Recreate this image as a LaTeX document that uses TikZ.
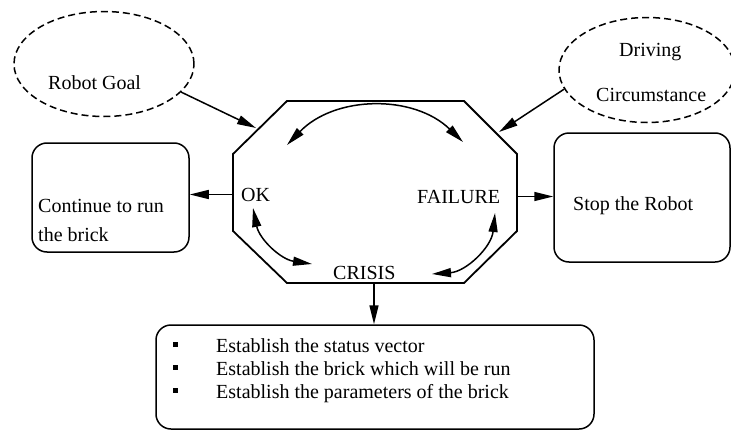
\documentclass[tikz,border=0pt]{standalone}
\usepackage{fontspec}
\setmainfont{Liberation Serif}
\usepackage{tikz}
\usetikzlibrary{shapes.geometric,arrows.meta}
\tikzstyle{dream} = [ellipse, draw, dash pattern=on 7pt off 4pt, line width=1.5pt, inner sep=0pt]
\tikzstyle{panel} = [rectangle, draw, rounded corners=15pt, line width=1.5pt, inner sep=0pt]
\tikzstyle{txt} = [anchor=base west, inner sep=0pt, font=\fontsize{20}{24}\selectfont]
\tikzstyle{dot} = [rectangle, fill, minimum size=5pt, inner sep=0pt]
\tikzstyle{arr} = [-{Triangle[length=19pt,width=9pt]}, line width=1.5pt]
\tikzstyle{dbl} = [{Triangle[length=19pt,width=9pt]}-{Triangle[length=19pt,width=9pt]}, line width=1.5pt]

\begin{document}
\begin{tikzpicture}[x=1pt, y=1pt]
    \useasboundingbox (0,0) rectangle (731,-431);
    % inputs
    \node[dream, minimum width=180pt, minimum height=105pt] (goal) at (104,-64) {};
    \node[txt] (goaltxt) at (48,-89) {Robot Goal};
    \node[dream, minimum width=176pt, minimum height=105pt] (drive) at (647,-70) {};
    \node[txt] (drivetxt) at (619,-56) {Driving};
    \node[txt] (circtxt) at (596,-101) {Circumstance};
    % state machine
    \coordinate (o1) at (287,-101);
    \coordinate (o2) at (464,-101);
    \coordinate (o3) at (517,-154);
    \coordinate (o4) at (517,-231);
    \coordinate (o5) at (464,-283);
    \coordinate (o6) at (287,-283);
    \coordinate (o7) at (233,-231);
    \coordinate (o8) at (233,-154);
    \draw[line width=1.8pt] (o1) -- (o2) -- (o3) -- (o4) -- (o5) -- (o6) -- (o7) -- (o8) -- cycle;
    \node[txt] (ok) at (241,-201) {OK};
    \node[txt] (fail) at (417,-203) {FAILURE};
    \node[txt] (crisis) at (333,-279) {CRISIS};
    % outputs
    \node[panel, minimum width=157pt, minimum height=109pt] (cont) at (110.5,-197.5) {};
    \node[txt] (conttxt) at (38,-212) {Continue to run};
    \node[txt] (conttxt2) at (38,-241) {the brick};
    \node[panel, minimum width=176pt, minimum height=129pt] (stop) at (642,-197.5) {};
    \node[txt] (stoptxt) at (573,-210) {Stop the Robot};
    \node[panel, minimum width=438pt, minimum height=104pt] (steps) at (375,-377) {};
    \node[dot] (b1) at (175.5,-344.5) {};
    \node[dot] (b2) at (175.5,-367.5) {};
    \node[dot] (b3) at (175.5,-390.5) {};
    \node[txt] (s1) at (216,-352) {Establish the status vector};
    \node[txt] (s2) at (216,-375) {Establish the brick which will be run};
    \node[txt] (s3) at (216,-398) {Establish the parameters of the brick};
    % arrows
    \coordinate (g1) at (256,-128);
    \coordinate (d1) at (499,-132);
    \coordinate (c1) at (374,-283);
    \draw[arr] (goal.340) -- (g1);
    \draw[arr] (drive.193) -- (d1);
    \draw[arr] (ok -| o8) -- (ok -| cont.east);
    \draw[arr] (fail -| o4) -- (fail -| stop.west);
    \draw[arr] (c1) -- (c1 |- steps.north);
    \coordinate (t1) at (287,-145);
    \coordinate (t2) at (463,-142);
    \coordinate (k1) at (253,-208);
    \coordinate (k2) at (312,-264);
    \coordinate (f1) at (432,-274);
    \coordinate (f2) at (495,-213);
    \draw[dbl] (t1) to[bend left=45] (t2);
    \draw[dbl] (k1) to[bend right=35] (k2);
    \draw[dbl] (f1) to[bend right=40] (f2);
\end{tikzpicture}
\end{document}
